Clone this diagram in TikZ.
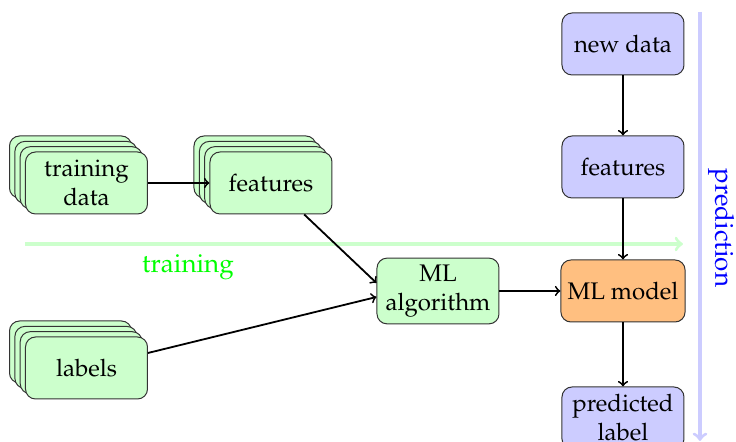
\documentclass[tikz,border=0pt]{standalone}
\usepackage[T1]{fontenc}
\usepackage{mathpazo}
\begin{document}
\begin{tikzpicture}[x=0.5pt,y=-0.5pt,
  box/.style={draw=black!80, line width=0.5pt, rounded corners=5pt,
    minimum width=61pt, minimum height=31pt, align=center,
    font=\fontsize{12}{14.5}\selectfont},
  gbox/.style={box, fill=green!20},
  bbox/.style={box, fill=blue!20},
  obox/.style={box, fill=orange!50},
  conn/.style={->, line width=0.9pt, black},
  phase/.style={->, ultra thick},
  phaselabel/.style={font=\fontsize{13}{15.6}\selectfont},
]
\useasboundingbox (0,0) rectangle (736,442);

% phase arrows
\coordinate (ts) at (25,244);
\coordinate (te) at (683,244);
\draw[phase, green!20] (ts) -- (te);
\node[phaselabel, text=green] (tl) at (188,267) {training};
\coordinate (ps) at (700,12);
\coordinate (pe) at (700,441);
\draw[phase, blue!20] (ps) -- (pe);
\node[phaselabel, text=blue, rotate=-90] (pl) at (721,228) {prediction};

% stacked copies
\foreach \n/\d in {3/16,2/10.6,1/5.3}{
  \node[gbox] (tdc\n) at (86.5-\d,183-\d) {};
  \node[gbox] (fc\n) at (271-\d,183-\d) {};
  \node[gbox] (lc\n) at (86.5-\d,368-\d) {};
}
% front nodes
\node[gbox, inner sep=1.5pt] (td) at (86.5,183) {training\\data};
\node[gbox] (feat) at (271,183) {features};
\node[gbox] (lab) at (86.5,368) {labels};
\node[gbox] (algo) at (438,291) {ML\\algorithm};
\node[bbox] (new) at (623,44) {new data};
\node[bbox] (feat2) at (623,167) {features};
\node[obox] (model) at (623,291) {ML model};
\node[bbox] (pred) at (623,418) {predicted\\label};

% connectors
\draw[conn] (td) -- (feat);
\draw[conn] (feat) -- ([yshift=4pt]algo.west);
\draw[conn] (lab) -- ([yshift=-3pt]algo.west);
\draw[conn] (algo) -- (model);
\draw[conn] (new) -- (feat2);
\draw[conn] (feat2) -- (model);
\draw[conn] (model) -- (pred);
\end{tikzpicture}
\end{document}
